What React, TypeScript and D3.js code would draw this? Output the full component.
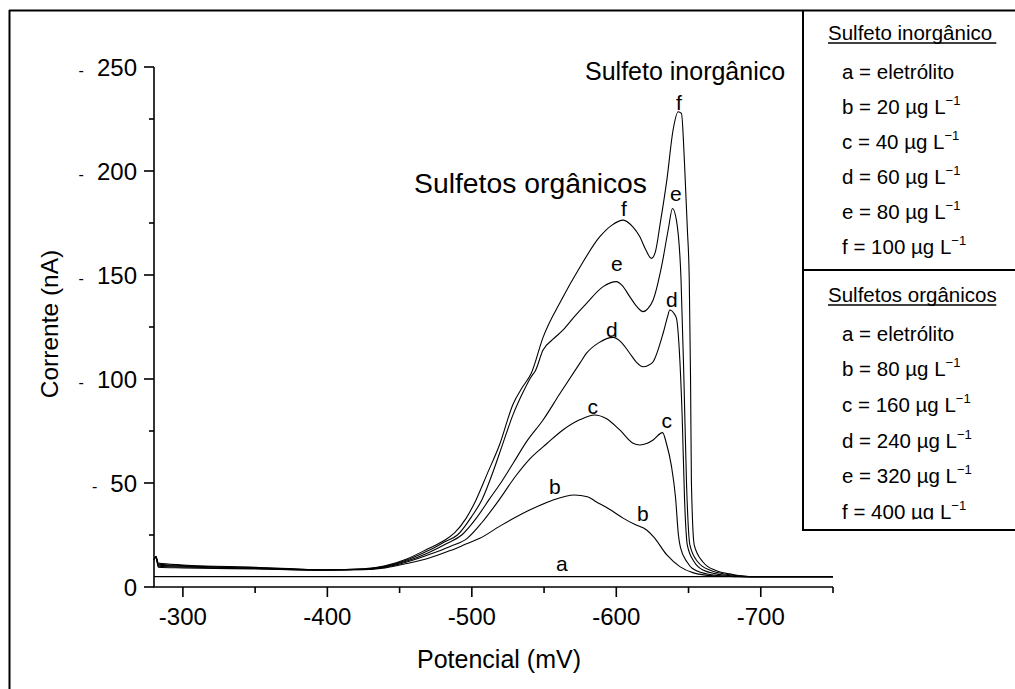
import React from 'react';
import * as d3 from 'd3';

// Data: [potential (mV), current (nA)]
const curveA: [number, number][] = [[-280, 5], [-750, 5]];
const curveB: [number, number][] = [[-280, 13], [-281.3, 14.6], [-283, 9.5], [-300, 9.2], [-350, 8.7], [-400, 8.2], [-425, 8.3], [-440, 9.2], [-455, 11.3], [-470, 13.8], [-485, 17.5], [-495.5, 20.5], [-505.5, 23.4], [-520, 29.5], [-540, 37], [-555, 41.5], [-571, 44.2], [-580, 43.4], [-586, 41], [-595, 37.5], [-605, 33], [-613, 30], [-621, 27.4], [-626, 24], [-635, 15.4], [-644, 9.8], [-653, 6.9], [-667, 5.4], [-690, 5], [-750, 5]];
const curveC: [number, number][] = [[-280, 13], [-281.3, 14.6], [-283, 10], [-300, 9.6], [-350, 8.9], [-400, 8.2], [-425, 8.4], [-440, 9.5], [-455, 12], [-470, 15.5], [-485, 19.5], [-497, 23.5], [-507, 31], [-519, 42], [-530, 53], [-540, 61.5], [-552, 69], [-563, 75.5], [-575, 80.5], [-585, 82.7], [-593, 81], [-602.4, 75.5], [-611.6, 69.1], [-616.3, 68.3], [-621, 69], [-625.5, 70.7], [-632, 74.2], [-634.7, 69], [-638.2, 58], [-641, 43], [-643, 25], [-644.4, 19], [-649, 12], [-652.5, 9], [-664.7, 6], [-682, 5], [-750, 5]];
const curveD: [number, number][] = [[-280, 13], [-281.3, 14.6], [-283, 10.5], [-300, 10], [-350, 9.1], [-400, 8.2], [-425, 8.5], [-440, 9.8], [-455, 12.5], [-470, 16.5], [-483, 21], [-493, 25], [-503, 33], [-512.5, 42.6], [-520, 50], [-528.6, 59.5], [-538, 70], [-549.3, 80.3], [-561, 93], [-574.7, 107.5], [-579.4, 112.4], [-588, 117.5], [-597.8, 120], [-603, 118], [-609.3, 112.4], [-614, 108], [-618.6, 105.9], [-622, 106.5], [-625.5, 108.3], [-632.4, 122], [-635.5, 130], [-637, 133.2], [-640, 131.5], [-641.7, 129], [-643.6, 114], [-645.6, 82], [-647.2, 43], [-649.2, 20], [-654, 12], [-660.5, 8], [-671.7, 6], [-688.9, 5], [-750, 5]];
const curveE: [number, number][] = [[-280, 13], [-281.3, 14.6], [-283, 11], [-300, 10.3], [-350, 9.3], [-400, 8.2], [-425, 8.6], [-440, 10], [-455, 13], [-470, 17.5], [-482, 22], [-490, 25], [-500, 34], [-507, 42], [-515, 56], [-521, 68], [-528.6, 83], [-535, 93], [-541, 101], [-544, 104], [-549.3, 113.9], [-556, 119], [-563.2, 123.6], [-571, 130], [-579.4, 136.4], [-590.9, 144.4], [-600.1, 146.8], [-604, 145], [-609.3, 139.6], [-614, 135], [-618.6, 132.4], [-622, 134], [-625.5, 138], [-631.3, 154], [-636, 172], [-638.9, 182], [-641.7, 176], [-644.8, 148], [-646.8, 100], [-648.6, 50], [-651, 20], [-656.5, 12], [-665, 8], [-677.2, 6], [-692.4, 5], [-750, 5]];
const curveF: [number, number][] = [[-280, 13], [-281.3, 14.6], [-283, 11.5], [-300, 10.6], [-350, 9.5], [-400, 8.2], [-425, 8.7], [-440, 10.2], [-455, 13.5], [-470, 18.5], [-480, 22], [-488, 26], [-496, 33], [-503, 42], [-511, 55], [-519, 68], [-528.6, 88], [-535, 96], [-541.3, 103], [-549.3, 120], [-562, 138], [-575, 154], [-588.6, 168.4], [-597, 174], [-604.8, 176.4], [-611.6, 173], [-616.3, 168.4], [-620.5, 162], [-624.3, 158], [-627, 161], [-630.4, 174.8], [-635, 195.7], [-639.3, 219.7], [-642.8, 228.5], [-645.1, 227.7], [-647.2, 204], [-649.2, 172], [-650.5, 148], [-651.4, 100], [-652, 50], [-654, 20], [-660, 12], [-668.5, 8], [-680.6, 6], [-693.8, 5], [-750, 5]];

const allCurves = [curveA, curveB, curveC, curveD, curveE, curveF];

// Curve letters: [letter, potential, current]
const curveLabels: [string, number, number][] = [
  ['a', -562.3, 7.7], ['b', -557.4, 44.7], ['b', -618.3, 31.7],
  ['c', -583.7, 83.2], ['c', -634.9, 76.4], ['d', -596.9, 120.2], ['d', -638.4, 134.6],
  ['e', -600.3, 151.9], ['e', -641.2, 185.6], ['f', -605.2, 178.4], ['f', -643.3, 229.3],
];

const xMajorTicks = [-300, -400, -500, -600, -700];
const xMinorTicks = [-350, -450, -550, -650, -750];
const yMajorTicks = [0, 50, 100, 150, 200, 250];
const yMinorTicks = [25, 75, 125, 175, 225];

const legendInorgTitle = 'Sulfeto inorgânico';
const legendOrgTitle = 'Sulfetos orgânicos';
const legendLetters = ['b', 'c', 'd', 'e', 'f'];
const inorgConc = ['20', '40', '60', '80', '100'];
const orgConc = ['80', '160', '240', '320', '400'];

const FONT = '"Liberation Sans", Arial, Helvetica, sans-serif';

export default function App() {
  const x = d3.scaleLinear().domain([-280, -750]).range([154, 833]);
  const y = d3.scaleLinear().domain([0, 250]).range([587, 67]);
  const line = d3.line<[number, number]>().x(d => x(d[0])).y(d => y(d[1])).curve(d3.curveMonotoneX);

  const legendBlock = (title: string, concs: string[], titleBase: number, step: number) => {
    const rows: React.ReactNode[] = [];
    rows.push(
      <g key="t">
        <text x={828} y={titleBase} fontSize={20.5}>{title}</text>
        <line x1={828} x2={828 + title.length * 9.35} y1={titleBase + 3} y2={titleBase + 3} stroke="#000" strokeWidth={1.3} />
      </g>
    );
    rows.push(<text key="a" x={842} y={titleBase + 38.5} fontSize={20.5}>a = eletrólito</text>);
    concs.forEach((c, i) => {
      rows.push(
        <text key={i} x={842} y={titleBase + 38.5 + (i + 1) * step} fontSize={20.5}>
          {legendLetters[i]} = {c} µg L<tspan fontSize={13} dy={-9}>−1</tspan>
        </text>
      );
    });
    return rows;
  };

  return (
    <svg width={1015} height={689} style={{ position: 'absolute', left: 0, top: 0, background: '#fff' }} fontFamily={FONT}>
      <defs>
        <clipPath id="legclip">
          <rect x={803} y={270} width={212} height={249.5} />
        </clipPath>
      </defs>
      <rect x={0} y={0} width={1015} height={689} fill="#fff" />
      {/* outer frame */}
      <line x1={9} x2={1015} y1={10.5} y2={10.5} stroke="#000" strokeWidth={2} />
      <line x1={9.5} x2={9.5} y1={10} y2={689} stroke="#000" strokeWidth={2} />

      {/* curves */}
      {allCurves.map((c, i) => (
        <path key={i} d={line(c) || ''} fill="none" stroke="#000" strokeWidth={1.1} />
      ))}

      {/* axes */}
      <line x1={154} x2={154} y1={y(250)} y2={y(0)} stroke="#000" strokeWidth={1.6} />
      <line x1={153} x2={x(-750)} y1={587} y2={587} stroke="#000" strokeWidth={1.6} />
      {xMajorTicks.map(t => (
        <g key={'xM' + t}>
          <line x1={x(t)} x2={x(t)} y1={587} y2={597} stroke="#000" strokeWidth={1.6} />
          <text x={x(t)} y={625} fontSize={24} textAnchor="middle">{t}</text>
        </g>
      ))}
      {xMinorTicks.map(t => (
        <line key={'xm' + t} x1={x(t)} x2={x(t)} y1={587} y2={593} stroke="#000" strokeWidth={1.6} />
      ))}
      {yMajorTicks.map(t => {
        const s = String(t);
        return (
          <g key={'yM' + t}>
            <line x1={144} x2={154} y1={y(t)} y2={y(t)} stroke="#000" strokeWidth={1.6} />
            <text x={137} y={y(t) + 8.5} fontSize={24} textAnchor="end">{s}</text>
            {t !== 0 && (
              <text x={137 - s.length * 13.35 - 13} y={y(t) + 9} fontSize={16} textAnchor="end">-</text>
            )}
          </g>
        );
      })}
      {yMinorTicks.map(t => (
        <line key={'ym' + t} x1={149} x2={154} y1={y(t)} y2={y(t)} stroke="#000" strokeWidth={1.6} />
      ))}

      {/* axis titles */}
      <text x={499} y={668} fontSize={25} textAnchor="middle">Potencial (mV)</text>
      <text transform="translate(58,324) rotate(-90)" fontSize={24.5} textAnchor="middle">Corrente (nA)</text>

      {/* curve letters */}
      {curveLabels.map(([l, px, py], i) => (
        <text key={'cl' + i} x={x(px)} y={y(py)} fontSize={21} textAnchor="middle">{l}</text>
      ))}

      {/* annotations */}
      <text x={585} y={80} fontSize={25}>Sulfeto inorgânico</text>
      <text x={414} y={193} fontSize={27} textLength={233} lengthAdjust="spacingAndGlyphs">Sulfetos orgânicos</text>

      {/* legend */}
      <line x1={803} x2={803} y1={10} y2={531} stroke="#000" strokeWidth={2} />
      <line x1={803} x2={1015} y1={270} y2={270} stroke="#000" strokeWidth={2} />
      <line x1={803} x2={1015} y1={530} y2={530} stroke="#000" strokeWidth={2} />
      <g>{legendBlock(legendInorgTitle, inorgConc, 40, 35.1)}</g>
      <g clipPath="url(#legclip)">{legendBlock(legendOrgTitle, orgConc, 302, 35.7)}</g>
    </svg>
  );
}
